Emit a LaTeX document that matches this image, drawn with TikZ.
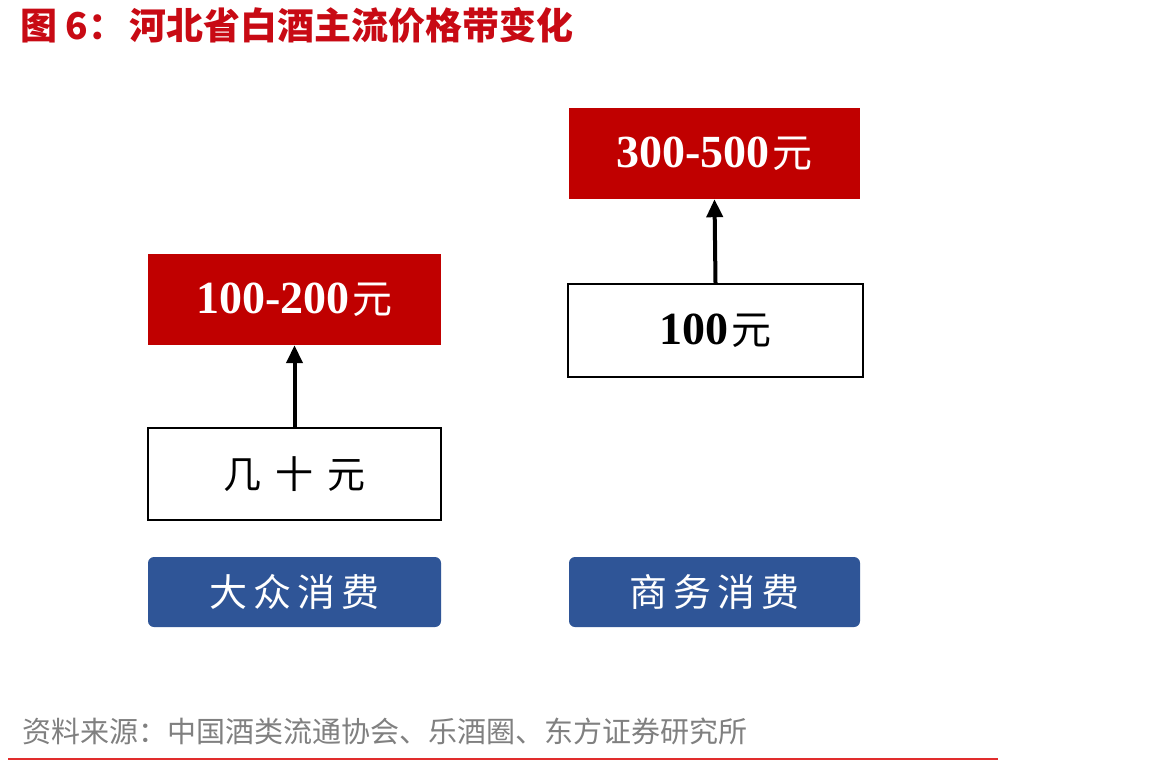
\documentclass[tikz,border=0pt]{standalone}
\usepackage{fontspec}
\setmainfont{Liberation Serif}
\newfontfamily\cjk{Noto Sans CJK SC}
\usetikzlibrary{arrows.meta}
\definecolor{boxred}{RGB}{192,0,0}
\definecolor{boxblue}{RGB}{47,85,151}
\definecolor{titlered}{RGB}{200,10,20}
\definecolor{srcgray}{RGB}{128,128,128}
\definecolor{linered}{RGB}{225,45,45}
\tikzset{
  redbox/.style={rectangle, fill=boxred, draw=none, text=white, inner sep=0pt},
  whitebox/.style={rectangle, fill=white, draw=black, line width=2pt, text=black, inner sep=0pt},
  bluebox/.style={rectangle, fill=boxblue, draw=none, rounded corners=6pt, text=white, inner sep=0pt},
  uparrow/.style={line width=4pt, -{Triangle[length=18pt,width=16pt]}},
  numfont/.style={font=\fontsize{46}{52}\selectfont\bfseries},
  cjkfont/.style={font=\cjk\fontsize{38}{44}\selectfont},
}
\newcommand{\yuan}{\hspace{3pt}{\cjk\fontsize{40}{44}\selectfont\mdseries 元}}
\begin{document}
\begin{tikzpicture}[x=1pt,y=-1pt]
\useasboundingbox (0,0) rectangle (1172,761);
\fill[white] (0,0) rectangle (1172,761);
% title
\node[anchor=west, inner sep=0pt, text=titlered, font=\cjk\bfseries\fontsize{37}{42}\selectfont] (title) at (20,25) {图 6：\hspace{4pt}河北省白酒主流价格带变化};
% left column
\node[redbox, minimum width=293pt, minimum height=91pt, numfont] (r1) at (294.5,299.5) {100-200\yuan};
\node[whitebox, minimum width=293pt, minimum height=92pt, cjkfont] (w1) at (294.5,474) {几\hspace{14pt}十\hspace{14pt}元};
\draw[uparrow] (w1.north) -- (r1.south);
\node[bluebox, minimum width=293pt, minimum height=70pt, cjkfont] (b1) at (294.5,592) {大\hspace{6pt}众\hspace{6pt}消\hspace{6pt}费};
% right column
\node[redbox, minimum width=291pt, minimum height=91pt, numfont] (r2) at (714.5,153.5) {300-500\yuan};
\node[whitebox, minimum width=295pt, minimum height=93pt, numfont] (w2) at (715.5,330.5) {100\yuan};
\draw[uparrow] (w2.north) -- (r2.south);
\node[bluebox, minimum width=291pt, minimum height=70pt, cjkfont] (b2) at (714.5,592) {商\hspace{6pt}务\hspace{6pt}消\hspace{6pt}费};
% source
\node[anchor=west, inner sep=0pt, text=srcgray, font=\cjk\fontsize{29}{34}\selectfont] (src) at (22,731) {资料来源：中国酒类流通协会、乐酒圈、东方证券研究所};
\draw[linered, line width=2pt] (8,759) -- (998,759);
\end{tikzpicture}
\end{document}
